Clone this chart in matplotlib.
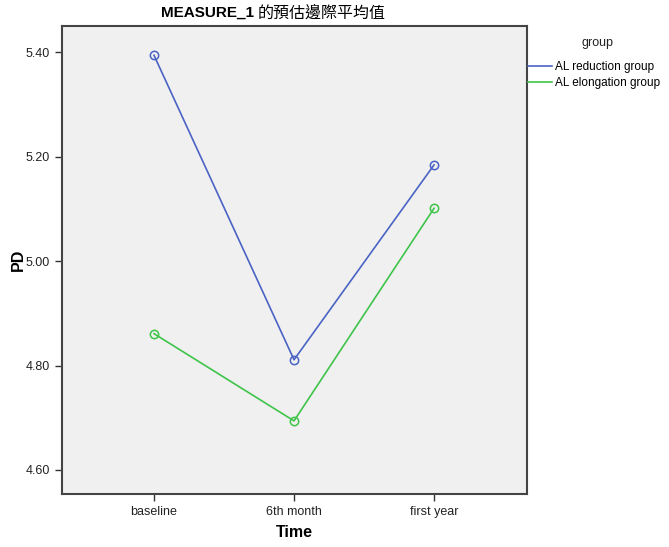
import matplotlib.pyplot as plt

plt.rcParams['font.family'] = ['Liberation Sans', 'Noto Sans CJK TC', 'DejaVu Sans']

# Data
times = ['baseline', '6th month', 'first year']
reduction = [5.394, 4.811, 5.184]
elongation = [4.861, 4.694, 5.101]
groups = ['AL reduction group', 'AL elongation group']
colors = ['#4a63c4', '#3fc44a']

W, H = 669, 547
fig = plt.figure(figsize=(W / 100, H / 100), dpi=100)
ax = fig.add_axes([62 / W, 1 - 494 / H, 465 / W, 468 / H])
ax.set_facecolor('#f0f0f0')

x = range(len(times))
for vals, name, c in zip([reduction, elongation], groups, colors):
    ax.plot(x, vals, color=c, linewidth=1.2, marker='o', markersize=6,
            markerfacecolor='none', markeredgecolor=c, markeredgewidth=1.1, label=name)

ax.set_xlim(-0.657, 2.664)
ax.set_ylim(4.554, 5.45)
ax.set_xticks(list(x))
ax.set_xticklabels(times)
ax.set_yticks([4.6, 4.8, 5.0, 5.2, 5.4])
ax.set_yticklabels(['4.60', '4.80', '5.00', '5.20', '5.40'])
ax.tick_params(direction='out', length=5, width=1, colors='#333333', labelsize=9,
               labelcolor='#222222')
for s in ax.spines.values():
    s.set_color('#444444')
    s.set_linewidth(1.5)

ax.set_xlabel('Time', fontsize=11.5, fontweight='bold', labelpad=5)
ax.set_ylabel('PD', fontsize=11.5, fontweight='bold', labelpad=0)

# title: bold latin part + regular CJK part
fig.text(254 / W, 1 - 13 / H, 'MEASURE_1', fontsize=11, fontweight='bold',
         ha='right', va='center')
fig.text(258 / W, 1 - 13 / H, '的預估邊際平均值', fontsize=11.5,
         family=['Noto Sans CJK TC', 'DejaVu Sans'], ha='left', va='center')

# legend
fig.text(597 / W, 1 - 43 / H, 'group', fontsize=9, ha='center', va='center', color='#222222')
leg = ax.legend(loc='upper left', bbox_to_anchor=(528 / W, 1 - 61 / H), bbox_transform=fig.transFigure,
                frameon=False, fontsize=8.5, handlelength=2.0, handletextpad=0.25,
                labelspacing=0.35, borderaxespad=0, borderpad=0)
for h in leg.get_lines():
    h.set_marker('')

fig.savefig('out.png', dpi=100)
